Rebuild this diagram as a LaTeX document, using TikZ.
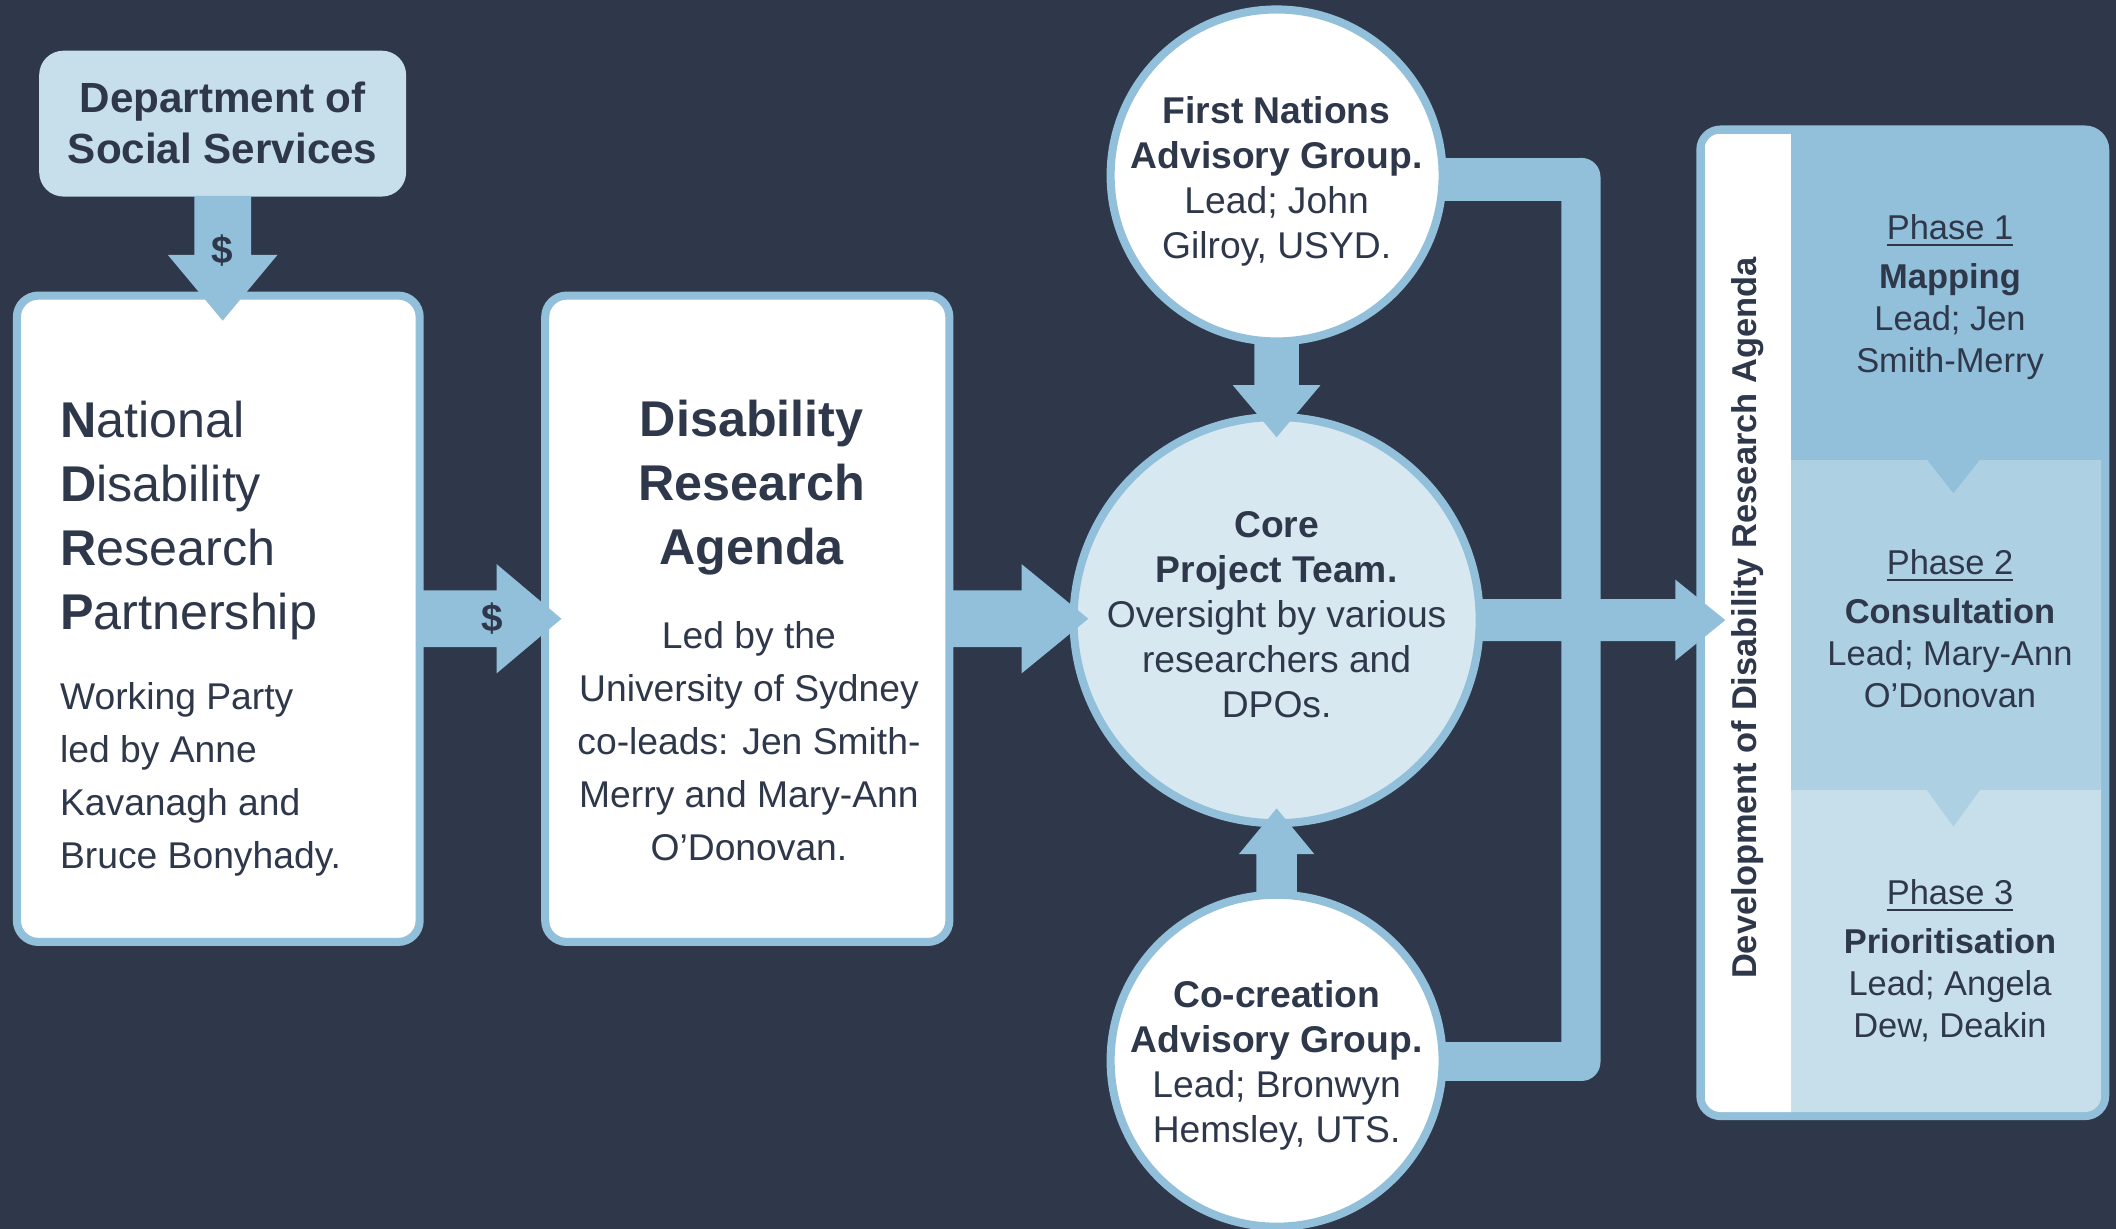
\documentclass[tikz,border=0pt]{standalone}
\usepackage{fontspec}
\setmainfont{Liberation Sans}
\usetikzlibrary{calc}
\definecolor{bgc}{RGB}{46,56,74}
\definecolor{bluec}{RGB}{146,191,217}
\definecolor{lightc}{RGB}{198,223,235}
\definecolor{corec}{RGB}{215,232,241}
\definecolor{midc}{RGB}{173,208,227}
\definecolor{txtc}{RGB}{46,56,74}
\pgfdeclarelayer{bg}
\pgfsetlayers{bg,main}
\begin{document}
\begin{tikzpicture}[x=0.13495mm, y=-0.13495mm,
  frame/.style={draw=bluec, line width=2.3pt, fill=white, rounded corners=6.1pt, inner sep=0pt},
  ring/.style={circle, draw=bluec, line width=2.3pt, inner sep=0pt, minimum size=94.46pt},
  arrowc/.style={fill=bluec},
  panel/.style={inner sep=0pt, draw=none, anchor=north west},
  txt/.style={inner sep=0pt, text=txtc, align=center},
  headb/.style={font=\bfseries\fontsize{14.3}{18.2}\selectfont},
  headr/.style={font=\fontsize{14.3}{18.2}\selectfont},
  body/.style={font=\fontsize{10.6}{15.1}\selectfont},
  circ/.style={font=\fontsize{10.6}{12.8}\selectfont},
  ph/.style={font=\fontsize{9.8}{11.9}\selectfont},
]
\useasboundingbox (0,0) rectangle (1568,910);

% ---------- boxes ----------
\node[fill=lightc, draw=none, rounded corners=6.9pt, inner sep=0pt,
      minimum width=104.4pt, minimum height=41.5pt] (dss) at (165,91.6) {};
\node[frame, minimum width=114.6pt, minimum height=183.9pt] (ndrp) at (161.75,458.5) {};
\node[frame, minimum width=115.0pt, minimum height=183.9pt] (dra) at (553.75,458.5) {};

% ---------- circles ----------
\node[ring, fill=white] (fn) at (946,130) {};
\node[ring, fill=corec, minimum size=115.58pt] (core) at (946,459.5) {};
\node[ring, fill=white] (cc) at (946,786) {};

% ---------- phases box ----------
\node[fill=bluec, draw=none, rounded corners=6.9pt, inner sep=0pt,
      minimum width=117.5pt, minimum height=283.0pt] (phases) at (1410,461.5) {};
\begin{scope}
  \clip[rounded corners=4.6pt] (1263,99) rectangle (1557,824);
  \node[panel, fill=white, minimum width=24.57pt, minimum height=278.4pt] (devpanel) at (1263,99) {};
  \node[panel, fill=bluec, minimum width=88.31pt, minimum height=92.54pt] (p1) at (1327,99) {};
  \node[panel, fill=midc, minimum width=88.31pt, minimum height=94.07pt] (p2) at (1327,340) {};
  \node[panel, fill=lightc, minimum width=88.31pt, minimum height=91.77pt] (p3) at (1327,585) {};
  \fill[bluec] ($(p1.south)+(-15,-1)$) -- ($(p1.south)+(25,-1)$) -- ($(p1.south)+(5,24.5)$) -- cycle;
  \fill[midc] ($(p2.south)+(-15,-1)$) -- ($(p2.south)+(25,-1)$) -- ($(p2.south)+(5,26.5)$) -- cycle;
\end{scope}

% ---------- bracket connector (behind circles) ----------
\begin{pgfonlayer}{bg}
  \fill[bgc] (-10,-10) rectangle (1578,920);
  \fill[bluec] ($(fn.east)+(-12,-13)$) rectangle ($(fn.east)+(100,19)$);
  \fill[bluec, rounded corners=5.4pt] ($(fn.east)+(85,-13)$) rectangle ($(cc.east)+(114,15)$);
  \fill[bluec] ($(cc.east)+(-12,-14)$) rectangle ($(cc.east)+(100,15)$);
\end{pgfonlayer}

% ---------- block arrows ----------
% DSS -> NDRP
\fill[arrowc] ($(dss.south)+(-21,-1)$) -- ($(dss.south)+(-21,42.6)$) -- ($(dss.south)+(-40.7,42.6)$)
  -- ($(dss.south |- ndrp.north)+(0,21.6)$) -- ($(dss.south)+(40.7,42.6)$) -- ($(dss.south)+(21,42.6)$)
  -- ($(dss.south)+(21,-1)$) -- cycle;
% NDRP -> DRA
\fill[arrowc] ($(ndrp.east)+(-1,-21)$) -- ($(ndrp.east)+(54,-21)$) -- ($(ndrp.east)+(54,-40.5)$)
  -- ($(dra.west)+(15,0)$) -- ($(ndrp.east)+(54,40.5)$) -- ($(ndrp.east)+(54,21)$)
  -- ($(ndrp.east)+(-1,21)$) -- cycle;
% DRA -> core
\fill[arrowc] ($(dra.east)+(-1,-21)$) -- ($(dra.east)+(50.5,-21)$) -- ($(dra.east)+(50.5,-40.5)$)
  -- ($(core.west |- dra.east)+(14,0)$) -- ($(dra.east)+(50.5,40.5)$) -- ($(dra.east)+(50.5,21)$)
  -- ($(dra.east)+(-1,21)$) -- cycle;
% FN -> core
\fill[arrowc] ($(fn.south)+(-16.5,-1)$) -- ($(fn.south)+(-16.5,29.4)$) -- ($(fn.south)+(-32.5,29.4)$)
  -- ($(core.north)+(0,18)$) -- ($(fn.south)+(32.5,29.4)$) -- ($(fn.south)+(16.5,29.4)$)
  -- ($(fn.south)+(16.5,-1)$) -- cycle;
% CC -> core
\fill[arrowc] ($(cc.north)+(-15,1)$) -- ($(cc.north)+(-15,-27)$) -- ($(cc.north)+(-28,-27)$)
  -- ($(core.south)+(0,-14)$) -- ($(cc.north)+(28,-27)$) -- ($(cc.north)+(15,-27)$)
  -- ($(cc.north)+(15,1)$) -- cycle;
% core -> phases
\fill[arrowc] ($(core.east)+(-1,-15.5)$) -- ($(core.east)+(142,-15.5)$) -- ($(core.east)+(142,-30)$)
  -- ($(phases.west |- core.east)+(22,0)$) -- ($(core.east)+(142,30)$) -- ($(core.east)+(142,15.5)$)
  -- ($(core.east)+(-1,15.5)$) -- cycle;

% ---------- texts ----------
\node[txt, font=\bfseries\fontsize{12}{14.6}\selectfont] (dsst) at (165,91) {Department of\\Social Services};
\node[txt, font=\bfseries\fontsize{11}{13}\selectfont] (dol1) at (164.5,186) {\$};
\node[txt, font=\bfseries\fontsize{11}{13}\selectfont] (dol2) at (365,458) {\$};

\node[txt, headr, align=left, anchor=west] (ndrpt) at (44,385.4)
  {\textbf{N}ational\\\textbf{D}isability\\\textbf{R}esearch\\\textbf{P}artnership};
\node[txt, body, align=left, anchor=west] (ndrpb) at (44,577.5)
  {Working Party\\led by Anne\\Kavanagh and\\Bruce Bonyhady.};

\node[txt, headb] (drat) at (557,361) {Disability\\Research\\Agenda};
\node[txt, body] (drab) at (555,549)
  {Led by the\\University of Sydney\\co-leads: Jen Smith-\\Merry and Mary-Ann\\O’Donovan.};

\node[txt, circ] (fnt) at (946,134.5)
  {\textbf{First Nations}\\\textbf{Advisory Group.}\\Lead; John\\Gilroy, USYD.};
\node[txt, circ] (coret) at (946,455.5)
  {\textbf{Core}\\\textbf{Project Team.}\\Oversight by various\\researchers and\\DPOs.};
\node[txt, circ] (cct) at (946,789.5)
  {\textbf{Co-creation}\\\textbf{Advisory Group.}\\Lead; Bronwyn\\Hemsley, UTS.};

\node[txt, rotate=90, font=\bfseries\fontsize{9.8}{11.9}\selectfont] (devt) at (1295,458)
  {Development of Disability Research Agenda};
\node[txt, ph] (p1t) at (1445,220)
  {\underline{Phase 1}\\[2pt]\textbf{Mapping}\\Lead; Jen\\Smith-Merry};
\node[txt, ph] (p2t) at (1445,466)
  {\underline{Phase 2}\\[2pt]\textbf{Consultation}\\Lead; Mary-Ann\\O’Donovan};
\node[txt, ph] (p3t) at (1445,712)
  {\underline{Phase 3}\\[2pt]\textbf{Prioritisation}\\Lead; Angela\\Dew, Deakin};
\end{tikzpicture}
\end{document}
